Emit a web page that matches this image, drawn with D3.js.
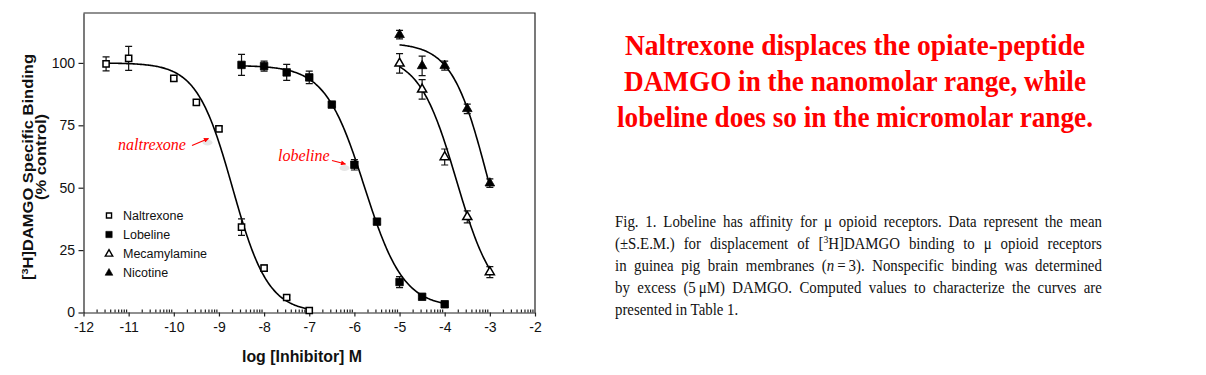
<!DOCTYPE html>
<html>
<head>
<meta charset="utf-8">
<script src="https://cdn.jsdelivr.net/npm/d3@7/dist/d3.min.js"></script>
<style>
  body { margin: 0; background: #fff; }
  #wrap { position: relative; width: 1206px; height: 375px; overflow: hidden; }
  svg { position: absolute; left: 0; top: 0; }
  .axis text { font-family: Arial, "Liberation Sans", sans-serif; font-size: 14px; fill: #111; }
  .axis path, .axis line { stroke: #222; stroke-width: 1.2; }
  .caption { position: absolute; left: 615px; width: 541px; font-family: "Liberation Serif", "Times New Roman", serif;
    font-size: 16.5px; line-height: 22px; color: #111; white-space: nowrap;
    transform: scaleX(0.9); transform-origin: 0 0; }
  .caption.just { text-align: justify; text-align-last: justify; }
  .caption sup { font-size: 0.65em; line-height: 0; vertical-align: 0.55em; }
</style>
</head>
<body>
<div id="wrap">
  <svg id="chart" width="1206" height="375"></svg>
</div>
<script>
// ---- data ----
const seriesNames = ["Naltrexone", "Lobeline", "Mecamylamine", "Nicotine"];

const naltrexoneX = [-11.5, -11, -10, -9.5, -9, -8.5, -8, -7.5, -7];
const naltrexoneY = [99.6, 101.8, 93.8, 84.2, 73.6, 34.2, 17.8, 6.0, 0.8];
const naltrexoneSem = [2.8, 4.8, 1.0, 1.0, 1.0, 3.3, 1.2, 0.8, 0.5];

const lobelineX = [-8.5, -8, -7.5, -7, -6.5, -6, -5.5, -5, -4.5, -4];
const lobelineY = [99.2, 98.7, 96.2, 94.2, 83.3, 59.2, 36.4, 12.2, 6.3, 3.3];
const lobelineSem = [4.2, 2.0, 3.2, 2.5, 0.8, 2.1, 1.0, 2.2, 0.8, 0.8];

const mecamylamineX = [-5, -4.5, -4, -3.5, -3];
const mecamylamineY = [99.8, 89.4, 62.3, 38.3, 16.2];
const mecamylamineSem = [3.9, 3.9, 3.2, 2.4, 2.2];

const nicotineX = [-5, -4.5, -4, -3.5, -3];
const nicotineY = [111.3, 98.8, 98.9, 81.6, 51.8];
const nicotineSem = [1.7, 3.9, 1.8, 1.9, 1.7];

// sigmoidal (4-parameter logistic) fit per series, as estimated from the drawn curves
const fitTop = [100, 99, 103, 108];
const fitBottom = [0, 2, 3, 0];
const fitLogIC50 = [-8.70, -5.78, -3.74, -3.05];
const fitHill = [1.1, 1.0, 1.05, 1.1];
const fitFrom = [-11.5, -8.5, -5, -5];
const fitTo = [-7, -4, -3, -3];

const xTicks = [-12, -11, -10, -9, -8, -7, -6, -5, -4, -3, -2];
const yTicks = [0, 25, 50, 75, 100];

const titleLines = [
  "Naltrexone displaces the opiate-peptide",
  "DAMGO in the nanomolar range, while",
  "lobeline does so in the micromolar range."
];
const captionLines = [
  "Fig. 1. Lobeline has affinity for \u03bc opioid receptors. Data represent the mean",
  "(\u00b1S.E.M.) for displacement of [<sup>3</sup>H]DAMGO binding to \u03bc opioid receptors",
  "in guinea pig brain membranes (<i>n</i>\u2009=\u20093). Nonspecific binding was determined",
  "by excess (5\u2009\u03bcM) DAMGO. Computed values to characterize the curves are",
  "presented in Table 1."
];

// ---- build series ----
const series = [
  { x: naltrexoneX, y: naltrexoneY, sem: naltrexoneSem, shape: d3.symbolSquare, filled: false },
  { x: lobelineX, y: lobelineY, sem: lobelineSem, shape: d3.symbolSquare, filled: true },
  { x: mecamylamineX, y: mecamylamineY, sem: mecamylamineSem, shape: d3.symbolTriangle, filled: false },
  { x: nicotineX, y: nicotineY, sem: nicotineSem, shape: d3.symbolTriangle, filled: true }
].map((s, i) => ({
  ...s,
  name: seriesNames[i],
  points: s.x.map((v, j) => ({ x: v, y: s.y[j], sem: s.sem[j] }))
}));

function symbolSize(s) {
  if (s.shape === d3.symbolSquare) return s.filled ? 56 : 38;
  return s.filled ? 40 : 36;
}

const svg = d3.select("#chart");
const margin = { top: 13, right: 671, bottom: 62.5, left: 83.5 };
const W = 1206, H = 375;

const x = d3.scaleLinear().domain([-12, -2]).range([margin.left, W - margin.right]);
const y = d3.scaleLinear().domain([0, 120]).range([H - margin.bottom, margin.top]);

// frame (top + right)
svg.append("path")
  .attr("d", `M${x(-12)},${y(120)}H${x(-2)}V${y(0)}`)
  .attr("fill", "none")
  .attr("stroke", "#222")
  .attr("stroke-width", 1.2);

// x axis
const xAxis = svg.append("g")
  .attr("class", "axis")
  .attr("transform", `translate(0,${y(0)})`)
  .call(d3.axisBottom(x).tickValues(xTicks).tickSize(4).tickPadding(6).tickSizeOuter(0)
    .tickFormat(d => d3.format("d")(d).replace("\u2212", "-")));

// minor (log) ticks pointing inside
const minor = [];
xTicks.slice(0, -1).forEach(d => d3.range(2, 10).forEach(k => minor.push(d + Math.log10(k))));
xAxis.selectAll(".minor")
  .data(minor)
  .join("line")
  .attr("class", "minor")
  .attr("x1", d => x(d)).attr("x2", d => x(d))
  .attr("y1", 0).attr("y2", -3);

// y axis
svg.append("g")
  .attr("class", "axis")
  .attr("transform", `translate(${x(-12)},0)`)
  .call(d3.axisLeft(y).tickValues(yTicks).tickSize(5).tickPadding(3.5).tickSizeOuter(0));
svg.selectAll(".axis .domain").attr("stroke", "#222");

// axis titles
svg.append("text")
  .attr("x", 302).attr("y", 361.5)
  .attr("text-anchor", "middle")
  .attr("textLength", 120).attr("lengthAdjust", "spacingAndGlyphs")
  .style("font-family", "Arial, 'Liberation Sans', sans-serif")
  .style("font-weight", "bold").style("font-size", "17px").style("fill", "#111")
  .text("log [Inhibitor] M");

const yt1 = svg.append("text")
  .attr("transform", "translate(33,167) scale(0.89,1) rotate(-90)")
  .attr("text-anchor", "middle")
  .style("font-family", "Arial, 'Liberation Sans', sans-serif")
  .style("font-weight", "bold").style("font-size", "16.5px").style("fill", "#111");
yt1.append("tspan").text("[");
yt1.append("tspan").attr("dy", -6).style("font-size", "11px").text("3");
yt1.append("tspan").attr("dy", 6).text("H]DAMGO Specific Binding");

svg.append("text")
  .attr("transform", "translate(46,157) scale(0.89,1) rotate(-90)")
  .attr("text-anchor", "middle")
  .style("font-family", "Arial, 'Liberation Sans', sans-serif")
  .style("font-weight", "bold").style("font-size", "16.5px").style("fill", "#111")
  .text("(% control)");

// fitted curves
const line = d3.line().x(d => x(d[0])).y(d => y(d[1]));
series.forEach((s, i) => {
  const pts = d3.range(fitFrom[i], fitTo[i] + 1e-9, 0.02).map(v =>
    [v, fitBottom[i] + (fitTop[i] - fitBottom[i]) / (1 + Math.pow(10, (v - fitLogIC50[i]) * fitHill[i]))]);
  svg.append("path")
    .attr("d", line(pts))
    .attr("fill", "none")
    .attr("stroke", "#000")
    .attr("stroke-width", 1.6);
});

// error bars
series.forEach(s => {
  const g = svg.append("g").attr("stroke", "#111").attr("stroke-width", 1.2).attr("fill", "none");
  s.points.forEach(p => {
    const cx = x(p.x), y1 = y(p.y + p.sem), y2 = y(p.y - p.sem);
    g.append("path").attr("d", `M${cx},${y1}V${y2}M${cx - 3.5},${y1}H${cx + 3.5}M${cx - 3.5},${y2}H${cx + 3.5}`);
  });
});

// markers
series.forEach(s => {
  svg.append("g").selectAll("path")
    .data(s.points)
    .join("path")
    .attr("transform", d => `translate(${x(d.x)},${y(d.y)})`)
    .attr("d", d3.symbol(s.shape, symbolSize(s)))
    .attr("fill", s.filled ? "#000" : "#fff")
    .attr("stroke", "#000")
    .attr("stroke-width", s.filled ? 0.8 : 1.5);
});

// legend
const legendRows = [215.5, 234.5, 253.5, 272.5];
const legend = svg.append("g");
series.forEach((s, i) => {
  const small = s.shape === d3.symbolSquare ? (s.filled ? 40 : 26) : (s.filled ? 26 : 24);
  legend.append("path")
    .attr("transform", `translate(109,${legendRows[i] + (s.shape === d3.symbolTriangle ? 0.5 : 0)})`)
    .attr("d", d3.symbol(s.shape, small))
    .attr("fill", s.filled ? "#000" : "#fff")
    .attr("stroke", "#000")
    .attr("stroke-width", s.filled ? 0.6 : 1.4);
  legend.append("text")
    .attr("x", 123).attr("y", legendRows[i]).attr("dy", "0.36em")
    .style("font-family", "Arial, 'Liberation Sans', sans-serif")
    .style("font-size", "12.5px").style("fill", "#111")
    .text(s.name);
});

// red annotations
const defs = svg.append("defs");
defs.append("marker")
  .attr("id", "arrow").attr("viewBox", "0 0 10 10")
  .attr("refX", 9).attr("refY", 5)
  .attr("markerWidth", 6).attr("markerHeight", 5)
  .attr("markerUnits", "userSpaceOnUse")
  .attr("orient", "auto")
  .append("path").attr("d", "M0,0L10,5L0,10z").attr("fill", "#f00");

const annotations = [
  { text: "naltrexone", tx: 118, ty: 150, from: [192, 145.5], to: [208.5, 138.5] },
  { text: "lobeline", tx: 278, ty: 160.5, from: [332, 160.5], to: [345.5, 164] }
];
annotations.forEach(a => {
  svg.append("ellipse")
    .attr("cx", a.to[0] - 1).attr("cy", a.to[1] + 4).attr("rx", 5).attr("ry", 3)
    .attr("fill", "#e6e6e6");
  svg.append("text")
    .attr("x", a.tx).attr("y", a.ty)
    .style("font-family", "'Liberation Serif', 'DejaVu Serif', serif")
    .style("font-style", "italic").style("font-size", "16px").style("fill", "#f00")
    .text(a.text);
  svg.append("line")
    .attr("x1", a.from[0]).attr("y1", a.from[1])
    .attr("x2", a.to[0]).attr("y2", a.to[1])
    .attr("stroke", "#f00").attr("stroke-width", 1.2)
    .attr("marker-end", "url(#arrow)");
});

// title on the right
const titleBase = [55, 91, 126.5];
const titleWidth = [460, 462, 476];
svg.append("g").selectAll("text")
  .data(titleLines)
  .join("text")
  .attr("x", 855).attr("y", (d, i) => titleBase[i])
  .attr("text-anchor", "middle")
  .attr("textLength", (d, i) => titleWidth[i])
  .attr("lengthAdjust", "spacingAndGlyphs")
  .style("font-family", "'Liberation Serif', 'Times New Roman', serif")
  .style("font-weight", "bold").style("font-size", "29px").style("fill", "#ff0000")
  .text(d => d);

// caption (justified lines)
d3.select("#wrap").selectAll("div.caption")
  .data(captionLines)
  .join("div")
  .attr("class", (d, i) => i < captionLines.length - 1 ? "caption just" : "caption")
  .style("top", (d, i) => (210.5 + i * 22) + "px")
  .html(d => d);
</script>
</body>
</html>
